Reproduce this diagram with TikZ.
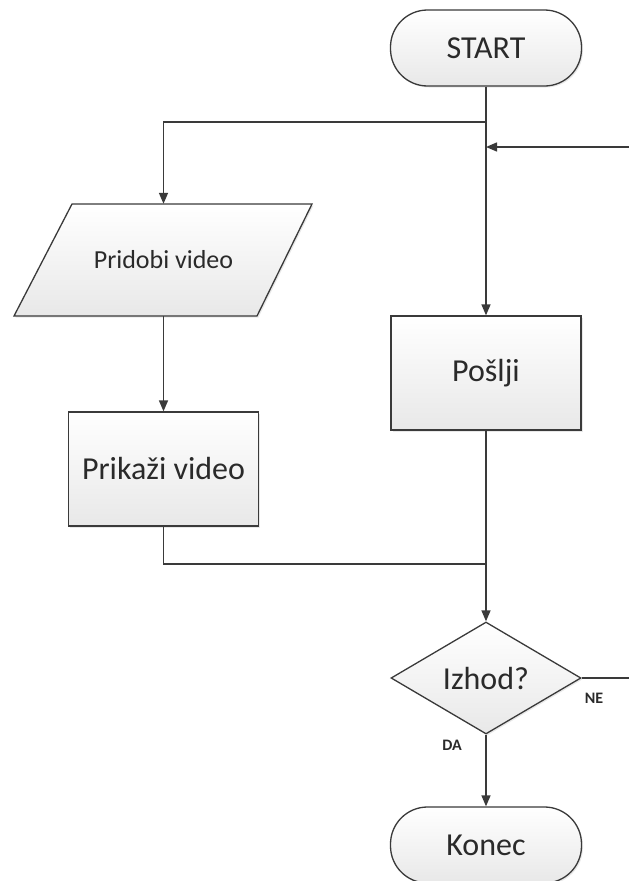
\documentclass[tikz,border=0pt]{standalone}
\usepackage{fontspec}
\setmainfont{Carlito}
\usetikzlibrary{shapes.geometric,arrows.meta,shadows}
\definecolor{lineC}{HTML}{3A3A3A}
\definecolor{txtC}{HTML}{2A2A2A}
\begin{document}
\begin{tikzpicture}[x=1pt,y=-1pt,
  line/.style={draw=lineC,line width=1.5pt},
  arr/.style={line,-{Triangle[length=11pt,width=9pt]}},
  boxfill/.style={top color=white,bottom color=black!9,draw=lineC,line width=1.3pt,
     drop shadow={shadow xshift=1.5pt,shadow yshift=-1.5pt,opacity=0.18}},
  bigtxt/.style={font=\fontsize{32}{38}\selectfont,text=txtC},
  term/.style={boxfill,bigtxt,rectangle,rounded corners=37pt,minimum width=191pt,minimum height=76pt,inner sep=0pt},
  procbox/.style={boxfill,bigtxt,rectangle,minimum width=190pt,minimum height=114pt,inner sep=0pt},
  decis/.style={boxfill,bigtxt,diamond,shape aspect=1.7,minimum width=190pt,minimum height=112pt,inner sep=0pt},
  lbl/.style={font=\fontsize{16}{19}\selectfont\bfseries,text=txtC}
]
\useasboundingbox (0,0) rectangle (629,881);

% parallelogram drawn directly
\path[boxfill] (72,204) -- (312,204) -- (257,316) -- (14,316) -- cycle;

\node[term] (start) at (486,48) {START};
\node[draw=none,minimum width=10pt,minimum height=112pt,inner sep=0pt,
      font=\fontsize{26}{30}\selectfont,text=txtC] (pv) at (163.5,260) {Pridobi video};
\node[procbox] (prik) at (163.5,469) {Prikaži video};
\node[procbox] (poslji) at (486,373) {Pošlji};
\node[decis] (izhod) at (486,678) {Izhod?};
\node[term] (konec) at (486,845) {Konec};

\coordinate (j1) at (486,122);
\coordinate (j2) at (486,147);
\coordinate (rin) at (629,147);
\coordinate (j3) at (486,564);
\coordinate (rout) at (629,678);

\draw[arr] (start.south) -- (j1) -| (pv.north);
\draw[arr] (start.south) -- (poslji.north);
\draw[arr] (rin) -- (j2);
\draw[arr] (pv.south) -- (prik.north);
\draw[line] (prik.south) |- (j3);
\draw[arr] (poslji.south) -- (izhod.north);
\draw[line] (izhod.east) -- (rout);
\draw[arr] (izhod.south) -- (konec.north);

\node[lbl] (ne) at (594,698) {NE};
\node[lbl] (da) at (452,745) {DA};
\end{tikzpicture}
\end{document}
